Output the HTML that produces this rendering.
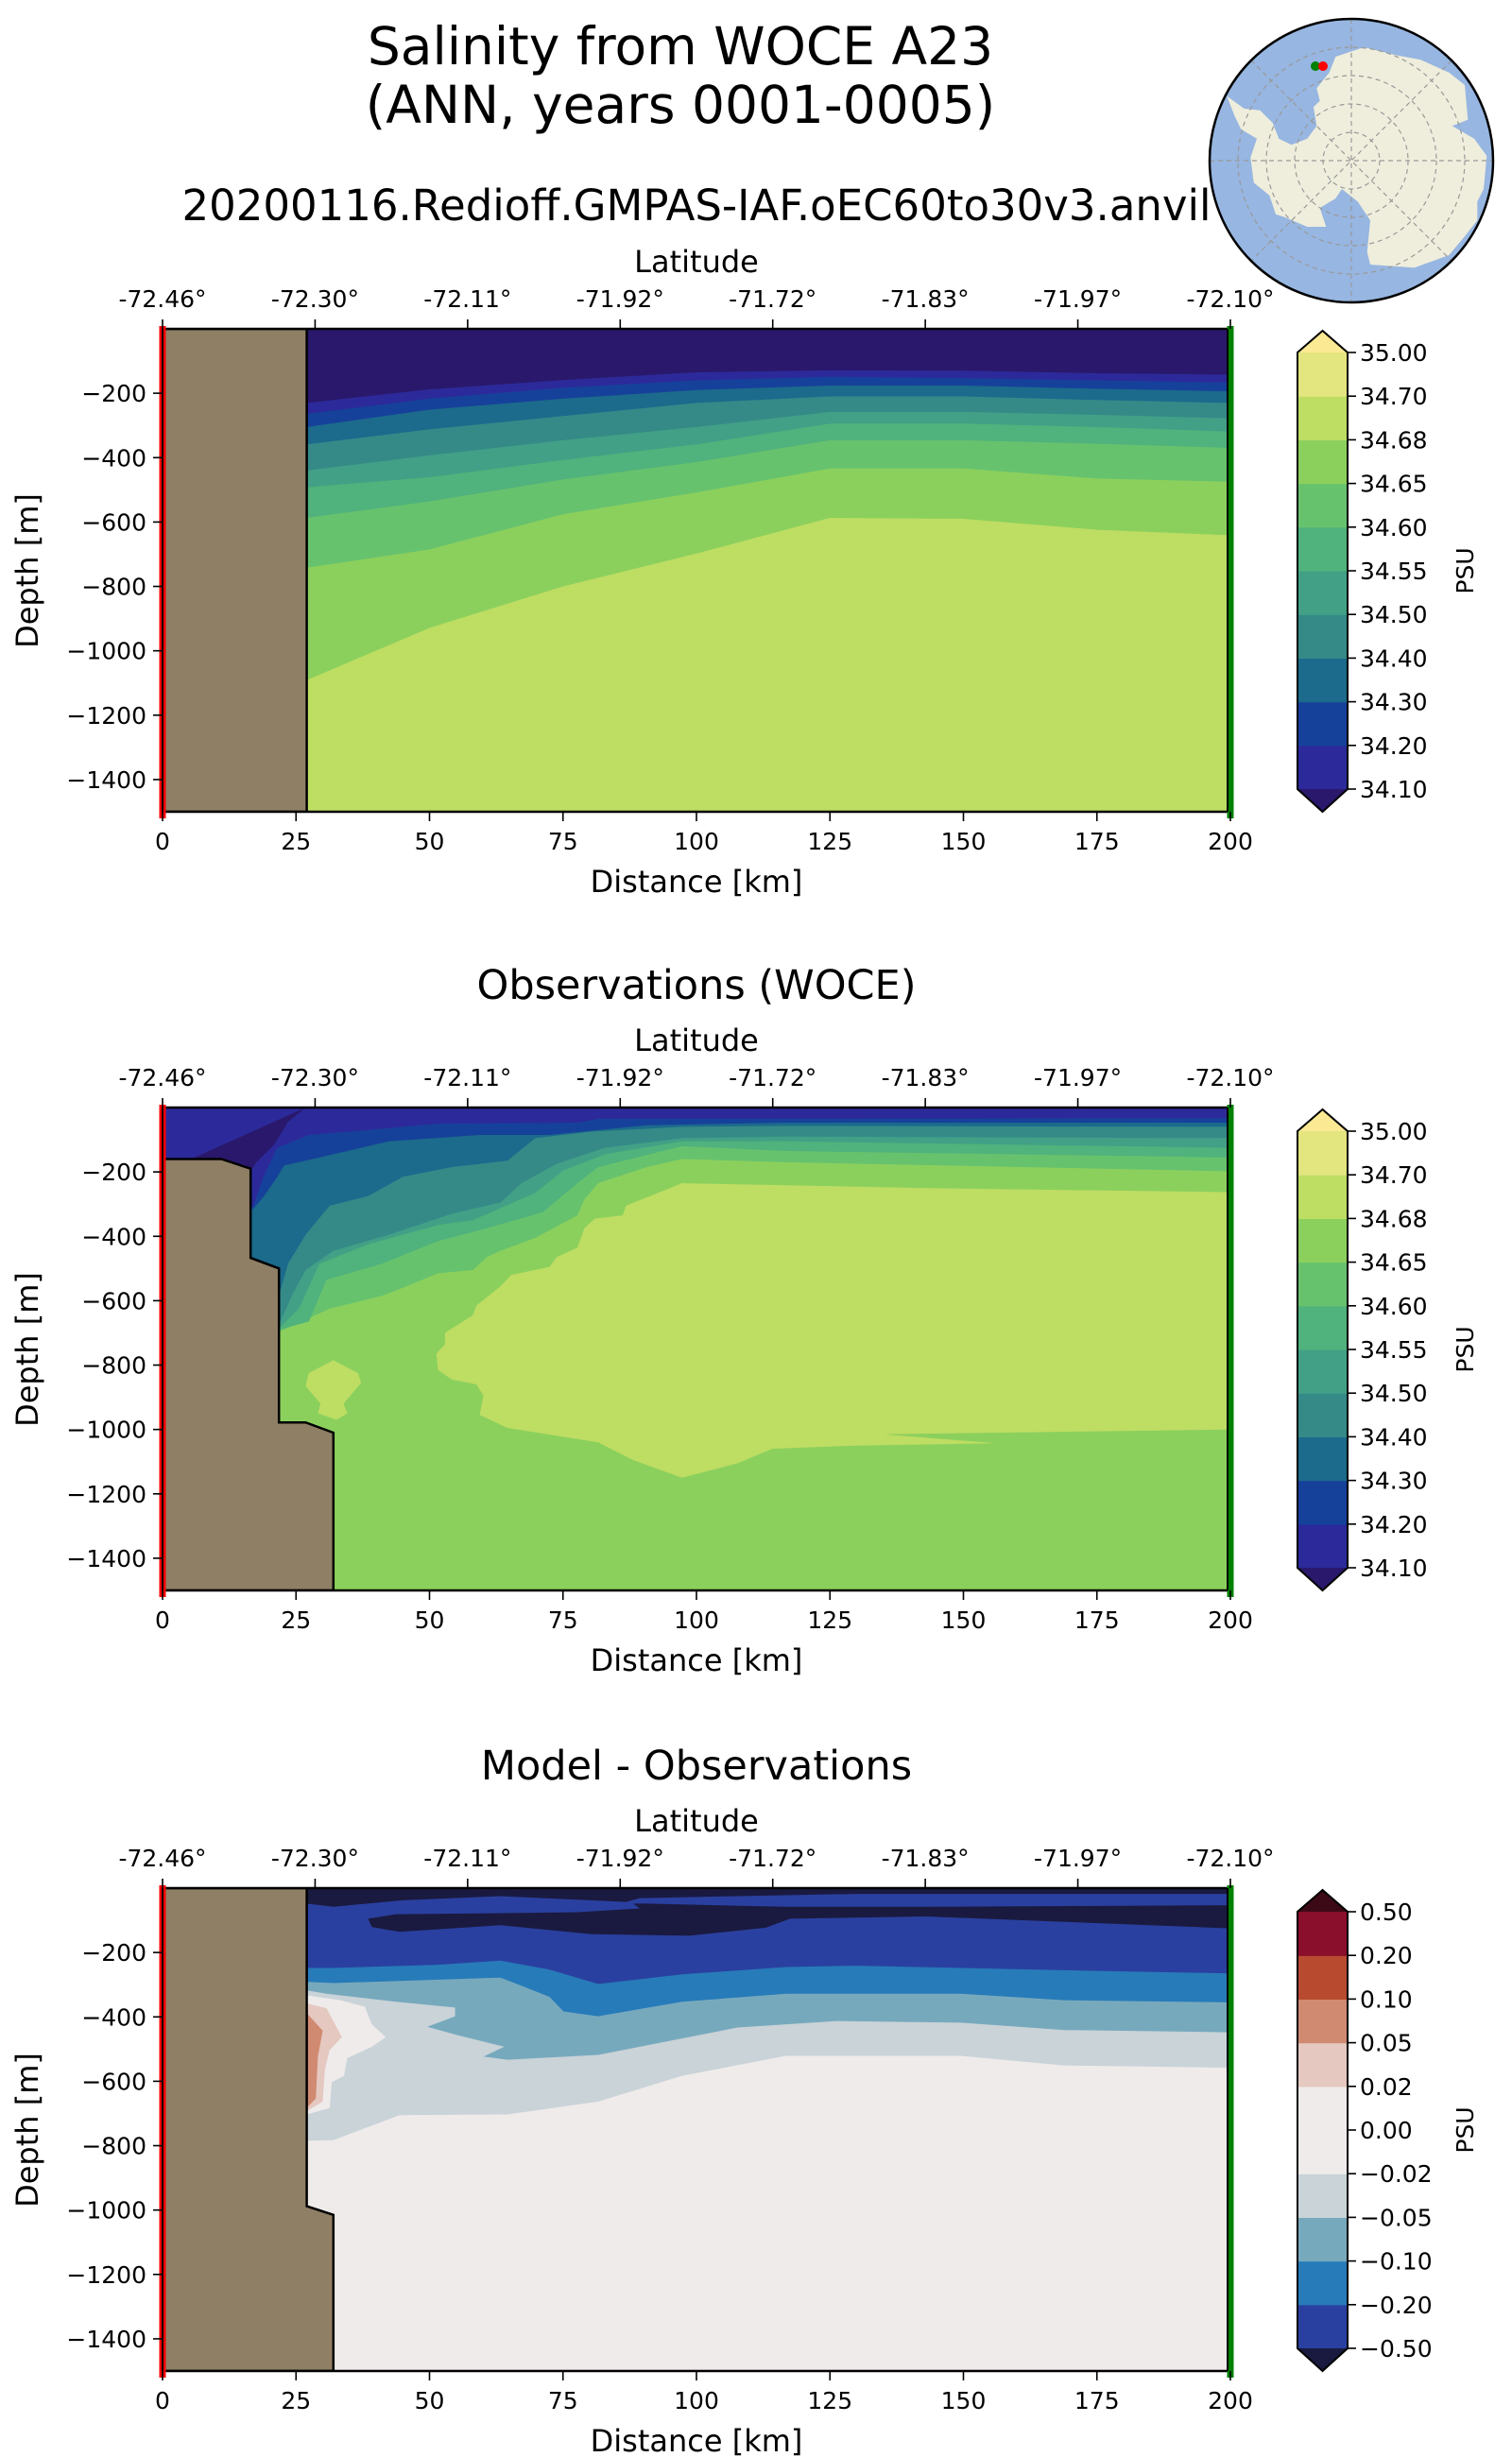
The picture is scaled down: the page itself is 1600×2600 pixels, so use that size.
<!DOCTYPE html>
<html><head><meta charset="utf-8"><title>Salinity from WOCE A23</title>
<style>
html,body{margin:0;padding:0;background:#fff;}
svg{display:block;font-family:"DejaVu Sans","Liberation Sans",sans-serif;}
</style></head>
<body>
<svg id="fig" xmlns="http://www.w3.org/2000/svg" width="1600" height="2600" viewBox="0 0 1600 2600">
<rect width="1600" height="2600" fill="#fff"/>
<text x="720" y="68" font-size="55" text-anchor="middle">Salinity from WOCE A23</text>
<text x="720" y="130" font-size="55" text-anchor="middle">(ANN, years 0001-0005)</text>
<text x="737" y="233" font-size="45" text-anchor="middle">20200116.Redioff.GMPAS-IAF.oEC60to30v3.anvil</text>
<text x="737" y="1057" font-size="43" text-anchor="middle">Observations (WOCE)</text>
<text x="737" y="1883" font-size="43" text-anchor="middle">Model - Observations</text>
<g id="globe"></g>
<g id="panels"></g>
</svg>
<script>
// ---------- data ----------
const distTicks = [0, 25, 50, 75, 100, 125, 150, 175, 200];
const depthTicks = [200, 400, 600, 800, 1000, 1200, 1400];
const latLabels = ["-72.46°", "-72.30°", "-72.11°", "-71.92°", "-71.72°", "-71.83°", "-71.97°", "-72.10°"];
const salLevels = ["34.10", "34.20", "34.30", "34.40", "34.50", "34.55", "34.60", "34.65", "34.68", "34.70", "35.00"];
const salColors = ["#2c2a9a", "#16419a", "#1c6a8c", "#358a88", "#42a086", "#50b27c", "#67c26e", "#8bd05d", "#bedd63", "#e3e57f"];
const salUnder = "#2a186c", salOver = "#fbe993";
const diffLevels = ["\u22120.50", "\u22120.20", "\u22120.10", "\u22120.05", "\u22120.02", "0.00", "0.02", "0.05", "0.10", "0.20", "0.50"];
const diffColors = ["#2a40a0", "#277bb9", "#77a9bd", "#c9d3d8", "#efebeb", "#efebeb", "#e5c8c0", "#d08a72", "#b84a30", "#8a0f2c"];
const diffUnder = "#1a1a40", diffOver = "#3c0a16";

// model section: boundary depths (m) at these distances
const modelKm = [27, 50, 75, 100, 125, 150, 175, 200];
const model3410 = [230, 188, 159, 135, 129, 130, 138, 142];
const model3420 = [264, 217, 183, 160, 149, 153, 160, 167];
const model3430 = [305, 251, 217, 190, 176, 176, 186, 194];
const model3440 = [359, 312, 271, 230, 210, 210, 221, 230];
const model3450 = [440, 393, 346, 305, 258, 258, 267, 278];
const model3455 = [492, 461, 407, 359, 294, 294, 305, 319];
const model3460 = [587, 536, 468, 414, 346, 346, 357, 370];
const model3465 = [742, 685, 576, 508, 434, 434, 465, 475];
const model3468 = [1091, 929, 800, 698, 587, 590, 624, 641];
const modelLand = [[0,0],[27,0],[27,1500],[0,1500]];

// observations: contour polylines [km, depth]
const obs3410 = [[26.8,0],[23.5,45],[20.9,115],[17.6,170],[16.3,200],[0,200]];
const obs3420 = [[17,305],[18.9,215],[21.5,125],[27.4,85],[38.5,70],[51.6,50],[77.7,47],[81.6,35],[116.8,35],[200,33]];
const obs3430 = [[17,315],[19,275],[21.5,215],[22.8,180],[30.7,150],[42.4,105],[59.4,85],[72.4,85],[90.7,55],[116.8,47],[200,47]];
const obs3440 = [[21.8,585],[23.5,485],[26.8,395],[31.3,305],[38.5,275],[45,215],[54.2,185],[64.6,165],[69.8,95],[80.3,75],[97.3,60],[116.8,57],[200,60]];
const obs3450 = [[21.8,675],[24.2,585],[26.8,505],[32,445],[42.4,395],[54.2,330],[63.3,295],[67.2,235],[73.8,175],[82.9,125],[97.3,95],[116.8,90],[200,95]];
const obs3455 = [[21.8,685],[25.5,625],[29.4,485],[38.5,425],[51.6,365],[58.1,350],[69.8,265],[75.1,195],[82.9,145],[97.3,105],[116.8,105],[200,125]];
const obs3460 = [[21.8,690],[27.4,665],[30.7,535],[41.1,485],[51.6,415],[60.7,375],[71.2,325],[77.7,235],[81.6,185],[97.3,120],[116.8,135],[200,155]];
const obs3465 = [[21.8,697],[31.3,625],[41.1,585],[45,560],[51.6,515],[58.1,505],[60.7,465],[63.3,445],[69.8,405],[77.7,335],[79,285],[81.6,235],[90.7,185],[97.3,160],[116.8,170],[200,198]];
const obsCore = [[97.3,235],[86.8,305],[86.2,335],[81,345],[79,375],[77.7,435],[73.8,465],[72.5,495],[65.3,520],[63.3,555],[58.8,615],[58.1,645],[52.9,700],[52.9,735],[51.3,765],[51.6,815],[54.2,845],[58.8,860],[60.1,895],[59.4,955],[64.6,995],[81.6,1040],[88.1,1095],[97.3,1150],[107.7,1105],[114.2,1060],[129.9,1050],[156,1043],[135.1,1015],[169,1007],[200,1000],[200,263],[143,250]];
const obsSmallCore = [[32,785],[36.6,825],[37.2,855],[33.9,920],[34.6,950],[32.6,970],[29.1,950],[29.6,920],[26.8,865],[27.4,825]];
const obsLand = [[0,160],[11,160],[16.5,190],[16.5,467],[21.8,500],[21.8,978],[26.8,978],[32,1010],[32,1500],[0,1500]];

// difference: contour polylines [km, depth]
const diffM002 = [[27,785],[32,783],[44.4,705],[64.6,703],[81.6,663],[97.3,583],[116.8,521],[149.5,521],[169,551],[200,558]];
const diffM005 = [[27,318],[30.7,328],[43.7,353],[54.8,371],[54.8,398],[49.6,431],[55.5,458],[64,493],[60.1,523],[64.6,533],[81.6,518],[107.7,433],[126,413],[149.5,418],[169,441],[200,448]];
const diffM010 = [[27,291],[32,295],[63.3,278],[67.2,303],[72.5,338],[75.1,383],[81.6,398],[97.3,353],[116.8,328],[149.5,328],[169,348],[200,355]];
const diffM020 = [[27,248],[32,248],[51.6,238],[63.3,225],[72.5,253],[81.6,298],[97.3,268],[116.8,245],[130,241],[149.5,248],[169,255],[200,265]];
const diffNearZero = [[27,333],[33.3,348],[37.9,368],[39.2,423],[41.8,463],[39.2,493],[34.6,528],[34,583],[31.7,603],[31.3,683],[27,703]];
const diffP002 = [[27,358],[30.7,373],[33.6,463],[31.3,503],[30.4,563],[30,663],[27,693]];
const diffP005 = [[27,388],[30,443],[29.1,523],[28.7,653],[27,683]];
const diffM050top = [[27,0],[200,0],[200,18],[130,18],[89.4,31],[86.8,43],[63.3,25],[45,38],[32,58],[27,48]];
const diffM050core = [[88.1,48],[89.4,63],[77.7,75],[62,78],[43.7,81],[38.5,95],[39.2,121],[44.4,136],[63.3,115],[80.3,143],[98.6,148],[113,123],[117.5,95],[143,88],[200,125],[200,53],[143,58],[116.8,58],[90.7,48]];
const diffLand = [[0,0],[27,0],[27,988],[32,1015],[32,1500],[0,1500]];

// ---------- helpers ----------
const NS = "http://www.w3.org/2000/svg";
const X0 = 172, X1 = 1302, PH = 511;
const panelTops = [348, 1172, 1998];
function sx(km){ return X0 + km * (X1 - X0) / 200; }
function mk(tag, attrs, parent){
  const e = document.createElementNS(NS, tag);
  for (const k in attrs) e.setAttribute(k, attrs[k]);
  parent.appendChild(e); return e;
}
function ptsStr(pts, T){ return pts.map(p => sx(p[0]).toFixed(1) + "," + (T + p[1] * PH / 1500).toFixed(1)).join(" "); }
function fillAbove(g, line, T, color, name){
  const pts = line.slice();
  const last = pts[pts.length - 1];
  const first = pts[0];
  pts.push([last[0], 0]);
  pts.push([Math.min(first[0], 0), 0]);
  pts.push([Math.min(first[0], 0), first[1]]);
  const p = mk("polygon", {points: ptsStr(pts, T), fill: color}, g);
  
  
}
function closedPoly(g, pts, T, color, name){
  const p = mk("polygon", {points: ptsStr(pts, T), fill: color}, g);
  
  
}
function zip(xs, ds){ return xs.map((x, i) => [x, ds[i]]); }

const root = document.getElementById("panels");

function axes(idx, T, levels, colors, under, over){
  const g = mk("g", {}, root);
  
  
  const fr = mk("rect", {x: X0, y: T, width: X1 - X0, height: PH, fill: "none", stroke: "#000", "stroke-width": 2.5}, g);
  
  
  const rl = mk("rect", {x: X0 - 3.5, y: T - 3, width: 7, height: PH + 10, fill: "#ff0000"}, g);
  
  
  mk("line", {x1: X0, y1: T, x2: X0, y2: T + PH, stroke: "#000", "stroke-width": 2}, g);
  const gl = mk("rect", {x: X1 - 3.5, y: T - 3, width: 7, height: PH + 10, fill: "#008000"}, g);
  
  
  mk("line", {x1: X1 - 3, y1: T, x2: X1 - 3, y2: T + PH, stroke: "#000", "stroke-width": 2}, g);
  distTicks.forEach(d => {
    const x = sx(d);
    mk("line", {x1: x, y1: T + PH, x2: x, y2: T + PH + 10, stroke: "#000", "stroke-width": 1.6}, g);
    const t = mk("text", {x: x, y: T + PH + 40, "font-size": 25, "text-anchor": "middle"}, g);
    t.textContent = d;
    
    
  });
  const xl = mk("text", {x: (X0 + X1) / 2, y: T + PH + 85, "font-size": 32, "text-anchor": "middle"}, g);
  xl.textContent = "Distance [km]";
  
  
  latLabels.forEach((lab, i) => {
    const x = sx(i * 200 / 7);
    mk("line", {x1: x, y1: T, x2: x, y2: T - 10, stroke: "#000", "stroke-width": 1.6}, g);
    const t = mk("text", {x: x, y: T - 23, "font-size": 25, "text-anchor": "middle"}, g);
    t.textContent = lab;
    
    
  });
  const ll = mk("text", {x: (X0 + X1) / 2, y: T - 60, "font-size": 32, "text-anchor": "middle"}, g);
  ll.textContent = "Latitude";
  
  
  depthTicks.forEach(d => {
    const y = T + d * PH / 1500;
    mk("line", {x1: X0, y1: y, x2: X0 - 10, y2: y, stroke: "#000", "stroke-width": 1.6}, g);
    const t = mk("text", {x: 155, y: y + 9, "font-size": 25, "text-anchor": "end"}, g);
    t.textContent = "\u2212" + d;
    
    
  });
  const yl = mk("text", {x: 0, y: 0, "font-size": 32, "text-anchor": "middle", transform: "translate(40," + (T + 256) + ") rotate(-90)"}, g);
  yl.textContent = "Depth [m]";
  
  
  const cb = mk("g", {}, g);
  
  
  const CX0 = 1373, CX1 = 1426, CT = T + 25, CB = T + 487, n = colors.length, sh = (CB - CT) / n;
  colors.forEach((c, i) => {
    const r = mk("rect", {x: CX0, y: CB - (i + 1) * sh, width: CX1 - CX0, height: sh + 0.6, fill: c}, cb);
    
    
  });
  const mid = (CX0 + CX1) / 2;
  const tu = mk("polygon", {points: CX0 + "," + CT + " " + CX1 + "," + CT + " " + mid + "," + (T + 2)}, cb);
  tu.setAttribute("fill", over);
  
  
  const td = mk("polygon", {points: CX0 + "," + CB + " " + CX1 + "," + CB + " " + mid + "," + (T + PH)}, cb);
  td.setAttribute("fill", under);
  
  
  mk("polygon", {points: CX0 + "," + CT + " " + mid + "," + (T + 2) + " " + CX1 + "," + CT + " " + CX1 + "," + CB + " " + mid + "," + (T + PH) + " " + CX0 + "," + CB, fill: "none", stroke: "#000", "stroke-width": 2}, cb);
  levels.forEach((lab, i) => {
    const y = CB - i * sh;
    mk("line", {x1: CX1, y1: y, x2: CX1 + 9, y2: y, stroke: "#000", "stroke-width": 1.6}, cb);
    const t = mk("text", {x: 1439, y: y + 9, "font-size": 25}, cb);
    t.textContent = lab;
    
    
  });
  const pl = mk("text", {x: 0, y: 0, "font-size": 25, "text-anchor": "middle", transform: "translate(1559," + (T + 256) + ") rotate(-90)"}, cb);
  pl.textContent = "PSU";
  
  
  return g;
}
function field(T, name){
  const g = mk("g", {}, root);
  
  
  const cp = mk("clipPath", {id: name + "-clip"}, g);
  mk("rect", {x: X0, y: T, width: X1 - X0, height: PH}, cp);
  const inner = mk("g", {"clip-path": "url(#" + name + "-clip)"}, g);
  return inner;
}
function land(g, pts, T){
  const p = mk("polygon", {points: ptsStr(pts, T), fill: "#8f7f65", stroke: "#000", "stroke-width": 2.5}, g);
  
  
}

(function(){
  const T = panelTops[0];
  const g = field(T, "model-section");
  const bg = mk("rect", {x: X0, y: T, width: X1 - X0, height: PH, fill: salColors[8]}, g);
  
  
  const bounds = [model3468, model3465, model3460, model3455, model3450, model3440, model3430, model3420, model3410];
  const cols = [salColors[7], salColors[6], salColors[5], salColors[4], salColors[3], salColors[2], salColors[1], salColors[0], salUnder];
  bounds.forEach((b, i) => fillAbove(g, zip(modelKm, b), T, cols[i], 'contour-band-' + i));
  land(g, modelLand, T);
})();
(function(){
  const T = panelTops[1];
  const g = field(T, "obs-section");
  const bg = mk("rect", {x: X0, y: T, width: X1 - X0, height: PH, fill: salColors[7]}, g);
  
  
  closedPoly(g, obsCore, T, salColors[8], 'contour-core-34.68');
  closedPoly(g, obsSmallCore, T, salColors[8], 'contour-small-core-34.68');
  const bounds = [obs3465, obs3460, obs3455, obs3450, obs3440, obs3430, obs3420];
  const cols = [salColors[6], salColors[5], salColors[4], salColors[3], salColors[2], salColors[1], salColors[0]];
  bounds.forEach((b, i) => fillAbove(g, b, T, cols[i], 'contour-band-' + i));
  closedPoly(g, obs3410, T, salUnder, 'contour-fill-below-34.10');
  land(g, obsLand, T);
})();
(function(){
  const T = panelTops[2];
  const g = field(T, "diff-section");
  const bg = mk("rect", {x: X0, y: T, width: X1 - X0, height: PH, fill: diffColors[5]}, g);
  
  
  fillAbove(g, diffM002, T, diffColors[3], 'contour-band-m0.02');
  fillAbove(g, diffM005, T, diffColors[2], 'contour-band-m0.05');
  closedPoly(g, diffNearZero, T, diffColors[5], 'contour-near-zero');
  closedPoly(g, diffP002, T, diffColors[6], 'contour-p0.02');
  closedPoly(g, diffP005, T, diffColors[7], 'contour-p0.05');
  fillAbove(g, diffM010, T, diffColors[1], 'contour-band-m0.10');
  fillAbove(g, diffM020, T, diffColors[0], 'contour-band-m0.20');
  closedPoly(g, diffM050top, T, diffUnder, 'contour-m0.50-top');
  closedPoly(g, diffM050core, T, diffUnder, 'contour-m0.50-core');
  land(g, diffLand, T);
})();
axes(0, panelTops[0], salLevels, salColors, salUnder, salOver);
axes(1, panelTops[1], salLevels, salColors, salUnder, salOver);
axes(2, panelTops[2], diffLevels, diffColors, diffUnder, diffOver);

(function(){
  const g = document.getElementById("globe");
  const cp = mk("clipPath", {id: "globe-clip"}, g);
  mk("circle", {cx: 1430, cy: 170, r: 150}, cp);
  const ocean = mk("circle", {cx: 1430, cy: 170, r: 150, fill: "#97b6e1"}, g);
  
  
  const inner = mk("g", {"clip-path": "url(#globe-clip)"}, g);
  const ant = [[145,305],[200,345],[250,350],[290,390],[310,440],[350,460],[400,440],[430,400],[420,340],[440,320],[430,280],[470,230],[490,180],[580,150],[680,175],[760,190],[850,230],[900,270],[910,380],[860,400],[930,440],[970,495],[960,600],[940,640],[940,700],[900,750],[850,810],[740,850],[600,840],[590,800],[600,700],[560,640],[510,600],[490,630],[440,660],[460,720],[400,720],[330,690],[300,680],[280,620],[230,580],[220,500],[240,440],[190,410],[170,370]];
  const lp = mk("polygon", {points: ant.map(p => (1250 + p[0] / 3).toFixed(1) + "," + (p[1] / 3).toFixed(1)).join(" "), fill: "#efeedc"}, inner);
  
  
  [30, 60, 90, 120].forEach(r => mk("circle", {cx: 1430, cy: 170, r: r, fill: "none", stroke: "#999", "stroke-width": 1.2, "stroke-dasharray": "5,4"}, inner));
  for (let a = 0; a < 180; a += 45) {
    const dx = 150 * Math.cos(a * Math.PI / 180), dy = 150 * Math.sin(a * Math.PI / 180);
    mk("line", {x1: 1430 - dx, y1: 170 - dy, x2: 1430 + dx, y2: 170 + dy, stroke: "#999", "stroke-width": 1.2, "stroke-dasharray": "5,4"}, inner);
  }
  mk("circle", {cx: 1430, cy: 170, r: 150, fill: "none", stroke: "#000", "stroke-width": 2.5}, g);
  const gd = mk("circle", {cx: 1392, cy: 70, r: 5, fill: "#008000"}, g);
  
  
  const rd = mk("circle", {cx: 1400, cy: 70, r: 5, fill: "#ff0000"}, g);
  
  
})();
</script>
</body></html>
